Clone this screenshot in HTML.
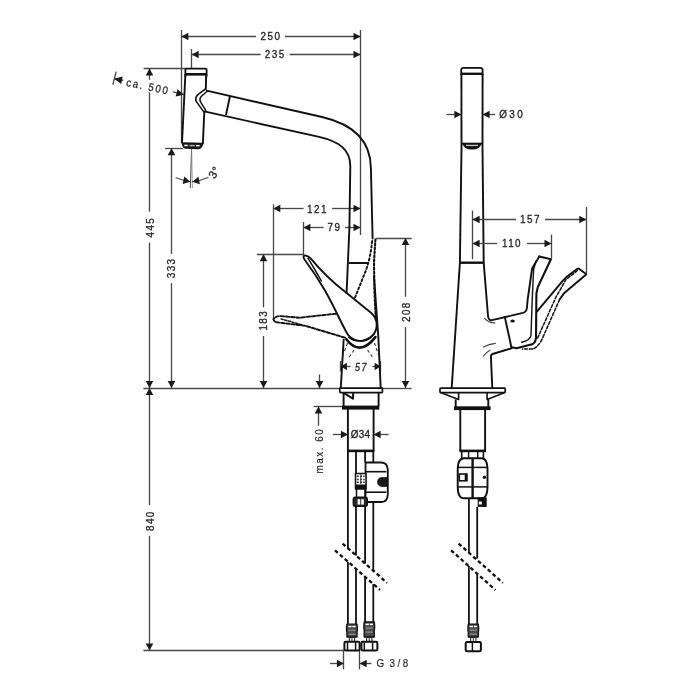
<!DOCTYPE html>
<html><head><meta charset="utf-8"><style>
html,body{margin:0;padding:0;background:#fff;}
body{width:700px;height:700px;overflow:hidden;}
svg{display:block;will-change:transform;}
text{font-family:"Liberation Sans",sans-serif;}
</style></head><body>
<svg width="700" height="700" viewBox="0 0 700 700" stroke-linecap="butt">
<rect width="700" height="700" fill="#fff"/>
<line x1="181.5" y1="30" x2="181.5" y2="143" stroke="#474747" stroke-width="1.3"/>
<line x1="360.5" y1="30" x2="360.5" y2="235" stroke="#474747" stroke-width="1.3"/>
<line x1="181.4" y1="36.5" x2="255.9" y2="36.5" stroke="#474747" stroke-width="1.3"/>
<line x1="285" y1="36.5" x2="360.5" y2="36.5" stroke="#474747" stroke-width="1.3"/>
<polygon points="181.4,36.5 188.4,32.7 188.4,40.3" fill="#1a1a1a"/>
<polygon points="360.5,36.5 353.5,40.3 353.5,32.7" fill="#1a1a1a"/>
<text x="0" y="0" font-size="11" letter-spacing="1.6" text-anchor="middle" dominant-baseline="central" fill="#1e1e1e" stroke="#1e1e1e" stroke-width="0.3" transform="translate(271 36.1) scale(0.9 1)">250</text>
<line x1="191.5" y1="49" x2="191.5" y2="68.6" stroke="#474747" stroke-width="1.3"/>
<line x1="191.7" y1="54.5" x2="260.6" y2="54.5" stroke="#474747" stroke-width="1.3"/>
<line x1="289.7" y1="54.5" x2="360.5" y2="54.5" stroke="#474747" stroke-width="1.3"/>
<polygon points="191.7,54.5 198.7,50.7 198.7,58.3" fill="#1a1a1a"/>
<polygon points="360.5,54.5 353.5,58.3 353.5,50.7" fill="#1a1a1a"/>
<text x="0" y="0" font-size="11" letter-spacing="1.6" text-anchor="middle" dominant-baseline="central" fill="#1e1e1e" stroke="#1e1e1e" stroke-width="0.3" transform="translate(275.2 54.7) scale(0.9 1)">235</text>
<line x1="143.6" y1="68.5" x2="185.5" y2="68.5" stroke="#474747" stroke-width="1.3"/>
<line x1="149.5" y1="68.6" x2="149.5" y2="79.9" stroke="#474747" stroke-width="1.3"/>
<line x1="149.5" y1="92.4" x2="149.5" y2="211.7" stroke="#474747" stroke-width="1.3"/>
<line x1="149.5" y1="242.6" x2="149.5" y2="388" stroke="#474747" stroke-width="1.3"/>
<polygon points="149.5,68.6 153.3,75.6 145.7,75.6" fill="#1a1a1a"/>
<polygon points="149.5,388 145.7,381 153.3,381" fill="#1a1a1a"/>
<text x="0" y="0" font-size="11" letter-spacing="1.6" text-anchor="middle" dominant-baseline="central" fill="#1e1e1e" stroke="#1e1e1e" stroke-width="0.3" transform="translate(150.2 227.1) rotate(-90) scale(0.9 1)">445</text>
<line x1="165.1" y1="148.5" x2="183" y2="148.5" stroke="#474747" stroke-width="1.3"/>
<line x1="171.5" y1="148.3" x2="171.5" y2="254" stroke="#474747" stroke-width="1.3"/>
<line x1="171.5" y1="283.1" x2="171.5" y2="388" stroke="#474747" stroke-width="1.3"/>
<polygon points="171.5,148.3 175.3,155.3 167.7,155.3" fill="#1a1a1a"/>
<polygon points="171.5,388 167.7,381 175.3,381" fill="#1a1a1a"/>
<text x="0" y="0" font-size="11" letter-spacing="1.6" text-anchor="middle" dominant-baseline="central" fill="#1e1e1e" stroke="#1e1e1e" stroke-width="0.3" transform="translate(171.6 267.9) rotate(-90) scale(0.9 1)">333</text>
<line x1="143.4" y1="388.5" x2="339.3" y2="388.5" stroke="#474747" stroke-width="1.3"/>
<line x1="382.9" y1="388.5" x2="411.6" y2="388.5" stroke="#474747" stroke-width="1.3"/>
<line x1="149.5" y1="388" x2="149.5" y2="505.1" stroke="#474747" stroke-width="1.3"/>
<line x1="149.5" y1="536" x2="149.5" y2="650.6" stroke="#474747" stroke-width="1.3"/>
<polygon points="149.5,388 153.3,395 145.7,395" fill="#1a1a1a"/>
<polygon points="149.5,650.6 145.7,643.6 153.3,643.6" fill="#1a1a1a"/>
<line x1="143.4" y1="650.5" x2="343.9" y2="650.5" stroke="#474747" stroke-width="1.3"/>
<text x="0" y="0" font-size="11" letter-spacing="1.6" text-anchor="middle" dominant-baseline="central" fill="#1e1e1e" stroke="#1e1e1e" stroke-width="0.3" transform="translate(150.2 520.6) rotate(-90) scale(0.9 1)">840</text>
<line x1="273.5" y1="204.3" x2="273.5" y2="319" stroke="#474747" stroke-width="1.3"/>
<line x1="273.3" y1="208.5" x2="303.6" y2="208.5" stroke="#474747" stroke-width="1.3"/>
<line x1="332.1" y1="208.5" x2="360.5" y2="208.5" stroke="#474747" stroke-width="1.3"/>
<polygon points="273.3,208.5 280.3,204.7 280.3,212.3" fill="#1a1a1a"/>
<polygon points="360.5,208.5 353.5,212.3 353.5,204.7" fill="#1a1a1a"/>
<text x="0" y="0" font-size="11" letter-spacing="1.6" text-anchor="middle" dominant-baseline="central" fill="#1e1e1e" stroke="#1e1e1e" stroke-width="0.3" transform="translate(317.5 208.9) scale(0.9 1)">121</text>
<line x1="303.5" y1="222" x2="303.5" y2="254.3" stroke="#474747" stroke-width="1.3"/>
<line x1="303.4" y1="227.5" x2="323.6" y2="227.5" stroke="#474747" stroke-width="1.3"/>
<line x1="345" y1="227.5" x2="360.5" y2="227.5" stroke="#474747" stroke-width="1.3"/>
<polygon points="303.4,227.5 310.4,223.7 310.4,231.3" fill="#1a1a1a"/>
<polygon points="360.5,227.5 353.5,231.3 353.5,223.7" fill="#1a1a1a"/>
<text x="0" y="0" font-size="11" letter-spacing="1.6" text-anchor="middle" dominant-baseline="central" fill="#1e1e1e" stroke="#1e1e1e" stroke-width="0.3" transform="translate(334.5 227.6) scale(0.9 1)">79</text>
<line x1="256.9" y1="254.5" x2="304" y2="254.5" stroke="#474747" stroke-width="1.3"/>
<line x1="263.5" y1="254.2" x2="263.5" y2="307.4" stroke="#474747" stroke-width="1.3"/>
<line x1="263.5" y1="336" x2="263.5" y2="388" stroke="#474747" stroke-width="1.3"/>
<polygon points="263.5,254.2 267.3,261.2 259.7,261.2" fill="#1a1a1a"/>
<polygon points="263.5,388 259.7,381 267.3,381" fill="#1a1a1a"/>
<text x="0" y="0" font-size="11" letter-spacing="1.6" text-anchor="middle" dominant-baseline="central" fill="#1e1e1e" stroke="#1e1e1e" stroke-width="0.3" transform="translate(263.8 320.2) rotate(-90) scale(0.9 1)">183</text>
<line x1="375.7" y1="238.5" x2="411.6" y2="238.5" stroke="#474747" stroke-width="1.3"/>
<line x1="405.5" y1="238" x2="405.5" y2="296.8" stroke="#474747" stroke-width="1.3"/>
<line x1="405.5" y1="327.1" x2="405.5" y2="388" stroke="#474747" stroke-width="1.3"/>
<polygon points="405.5,238 409.3,245 401.7,245" fill="#1a1a1a"/>
<polygon points="405.5,388 401.7,381 409.3,381" fill="#1a1a1a"/>
<text x="0" y="0" font-size="11" letter-spacing="1.6" text-anchor="middle" dominant-baseline="central" fill="#1e1e1e" stroke="#1e1e1e" stroke-width="0.3" transform="translate(406 311.6) rotate(-90) scale(0.9 1)">208</text>
<line x1="319.5" y1="374.5" x2="319.5" y2="388" stroke="#474747" stroke-width="1.3"/>
<polygon points="319.5,388 315.7,381 323.3,381" fill="#1a1a1a"/>
<line x1="340.5" y1="361" x2="340.5" y2="371.4" stroke="#474747" stroke-width="1.3"/>
<line x1="380.5" y1="361" x2="380.5" y2="371.4" stroke="#474747" stroke-width="1.3"/>
<line x1="340.9" y1="366.5" x2="350.6" y2="366.5" stroke="#474747" stroke-width="1.3"/>
<line x1="372.4" y1="366.5" x2="380.6" y2="366.5" stroke="#474747" stroke-width="1.3"/>
<polygon points="340.9,366.5 346.9,362.7 346.9,370.3" fill="#1a1a1a"/>
<polygon points="380.6,366.5 374.6,370.3 374.6,362.7" fill="#1a1a1a"/>
<text x="0" y="0" font-size="10" letter-spacing="1.6" text-anchor="middle" dominant-baseline="central" fill="#1e1e1e" stroke="#1e1e1e" stroke-width="0.3" transform="translate(361.5 367.2) scale(0.9 1)" font-style="italic">57</text>
<line x1="313.6" y1="406.5" x2="342" y2="406.5" stroke="#474747" stroke-width="1.3"/>
<line x1="318.5" y1="406.4" x2="318.5" y2="425.7" stroke="#474747" stroke-width="1.3"/>
<polygon points="318.5,406.4 322.3,413.4 314.7,413.4" fill="#1a1a1a"/>
<text x="0" y="0" font-size="11" letter-spacing="1.7" text-anchor="middle" dominant-baseline="central" fill="#1e1e1e" stroke="#1e1e1e" stroke-width="0.15" transform="translate(319.1 450.6) rotate(-90) scale(0.9 1)">max. 60</text>
<line x1="332.9" y1="434.5" x2="347.9" y2="434.5" stroke="#474747" stroke-width="1.3"/>
<line x1="373.6" y1="434.5" x2="388.6" y2="434.5" stroke="#474747" stroke-width="1.3"/>
<polygon points="347.9,434.5 340.9,438.3 340.9,430.7" fill="#1a1a1a"/>
<polygon points="373.6,434.5 380.6,430.7 380.6,438.3" fill="#1a1a1a"/>
<text x="0" y="0" font-size="11" letter-spacing="0.3" text-anchor="middle" dominant-baseline="central" fill="#1e1e1e" stroke="#1e1e1e" stroke-width="0.3" transform="translate(360.6 434.2) scale(0.9 1)">&#216;34</text>
<line x1="343.5" y1="650.6" x2="343.5" y2="669.3" stroke="#474747" stroke-width="1.3"/>
<line x1="359.5" y1="650.6" x2="359.5" y2="669.3" stroke="#474747" stroke-width="1.3"/>
<line x1="330" y1="663.5" x2="343.9" y2="663.5" stroke="#474747" stroke-width="1.3"/>
<line x1="359.7" y1="663.5" x2="371.4" y2="663.5" stroke="#474747" stroke-width="1.3"/>
<polygon points="343.9,663.5 336.9,667.3 336.9,659.7" fill="#1a1a1a"/>
<polygon points="359.7,663.5 366.7,659.7 366.7,667.3" fill="#1a1a1a"/>
<text x="0" y="0" font-size="11" letter-spacing="0" text-anchor="start" dominant-baseline="central" fill="#1e1e1e" stroke="#1e1e1e" stroke-width="0.15" transform="translate(376.4 663.6) scale(0.9 1)">G</text>
<text x="0" y="0" font-size="11" letter-spacing="2.7" text-anchor="start" dominant-baseline="central" fill="#1e1e1e" stroke="#1e1e1e" stroke-width="0.15" transform="translate(389.6 663.6) scale(0.9 1)">3/8</text>
<text x="0" y="0" font-size="10.8" letter-spacing="1.9" text-anchor="middle" dominant-baseline="central" fill="#1e1e1e" stroke="#1e1e1e" stroke-width="0.25" transform="translate(148 86.6) rotate(12) scale(0.9 1)">ca. 500</text>
<line x1="116.2" y1="71.6" x2="112.8" y2="84.6" stroke="#474747" stroke-width="1.3"/>
<line x1="114.1" y1="78.7" x2="123.3" y2="80.4" stroke="#474747" stroke-width="1.3"/>
<polygon points="114.1,78.7 122.66,76.42 121.28,83.89" fill="#1a1a1a"/>
<line x1="173" y1="91.9" x2="183.9" y2="94.7" stroke="#474747" stroke-width="1.3"/>
<polygon points="183.9,94.7 175.69,96.51 177.58,89.15" fill="#1a1a1a"/>
<line x1="191.6" y1="148.3" x2="190.3" y2="188" stroke="#474747" stroke-width="1"/>
<line x1="191.6" y1="148.3" x2="192.4" y2="188" stroke="#888" stroke-width="0.8"/>
<path d="M176,177.8 Q183,180.6 190.3,181.8" fill="none" stroke="#474747" stroke-width="1.1" stroke-linejoin="round" stroke-linecap="round"/>
<polygon points="190.3,181.8 182.65,184.01 184.28,176.58" fill="#1a1a1a"/>
<path d="M208,177.4 Q200,180.8 192.3,181.8" fill="none" stroke="#474747" stroke-width="1.1" stroke-linejoin="round" stroke-linecap="round"/>
<polygon points="192.3,181.8 198.52,176.82 199.86,184.3" fill="#1a1a1a"/>
<text x="0" y="0" font-size="11.5" letter-spacing="0.3" text-anchor="middle" dominant-baseline="central" fill="#1e1e1e" stroke="#1e1e1e" stroke-width="0.3" transform="translate(214.3 172.4) rotate(-58)">3&#176;</text>
<path d="M185.4,76 L185.4,69.5 Q185.4,68.6 186.4,68.6 L205.6,68.6 Q206.6,68.6 206.6,69.5 L206.6,76" fill="none" stroke="#111" stroke-width="1.8" stroke-linejoin="round" stroke-linecap="round"/>
<line x1="185.4" y1="74.3" x2="206.4" y2="74.3" stroke="#111" stroke-width="2.6"/>
<line x1="185.4" y1="74" x2="182" y2="142.8" stroke="#111" stroke-width="1.9"/>
<line x1="206.2" y1="74" x2="205.8" y2="89.5" stroke="#111" stroke-width="1.9"/>
<line x1="204.3" y1="111.4" x2="202.9" y2="143.7" stroke="#111" stroke-width="1.9"/>
<path d="M182.2,143 L202.9,143.5 L201.4,146.6 Q200.6,148.3 198.5,148.4 L186,148.1 Q184.2,148 183.4,146.4 Z" fill="#1c1c1c" stroke="#111" stroke-width="1.5" stroke-linejoin="round" stroke-linecap="round"/>
<rect x="184.3" y="144.7" width="3.4" height="1.5" fill="#fff"/>
<rect x="189.4" y="144.8" width="5.2" height="1.5" fill="#aaa"/>
<rect x="196.1" y="144.9" width="3.5" height="1.5" fill="#fff"/>
<path d="M205.6,88.9 L198.2,94.3 Q194.6,97.4 196.2,101.4 L203.6,111.6" fill="none" stroke="#111" stroke-width="1.6" stroke-linejoin="round" stroke-linecap="round"/>
<path d="M207.2,91.3 L201.4,96.2 Q198.8,98.8 200.8,102.4 L205.8,110.4" fill="none" stroke="#111" stroke-width="1.5" stroke-linejoin="round" stroke-linecap="round"/>
<path d="M206.6,90.6 L322,117 C348,123 370.6,137.4 370.9,168 L372.6,238.6" fill="none" stroke="#111" stroke-width="1.9" stroke-linejoin="round" stroke-linecap="round"/>
<path d="M204.3,111.4 L318,136.6 C340,141.5 350.3,150 350.3,166 L349.4,228 L346.6,292.9" fill="none" stroke="#111" stroke-width="1.9" stroke-linejoin="round" stroke-linecap="round"/>
<line x1="230" y1="96" x2="226" y2="114.9" stroke="#111" stroke-width="1.9"/>
<line x1="349" y1="263" x2="368.3" y2="263" stroke="#111" stroke-width="2"/>
<path d="M374,276 L378.3,336.5 L380.7,387.8" fill="none" stroke="#111" stroke-width="1.9" stroke-linejoin="round" stroke-linecap="round"/>
<path d="M375.4,239.5 L374,262 L374.4,290 L375.8,320" fill="none" stroke="#111" stroke-width="2.1" stroke-linejoin="round" stroke-linecap="round" stroke-dasharray="2 2"/>
<path d="M372.2,241 Q370.5,258 365.7,270.9 L354.5,298.8" fill="none" stroke="#111" stroke-width="1.9" stroke-linejoin="round" stroke-linecap="round" stroke-dasharray="2 2.4"/>
<line x1="343.7" y1="338.9" x2="340.8" y2="387.8" stroke="#111" stroke-width="1.9"/>
<path d="M306,255.6 Q309,256.4 310.6,258.3 C317,266 330,280 346,292.6 L371,312.7 A16,16 0 1 1 346.7,332.7 C335,311 328,291 304.5,259.5 Q302.6,256.6 304.3,255.6 Q305,255.3 306,255.6 Z" fill="none" stroke="#111" stroke-width="1.9" stroke-linejoin="round" stroke-linecap="round"/>
<path d="M308,258.4 Q314,268 321.4,281" fill="none" stroke="#111" stroke-width="1.5" stroke-linejoin="round" stroke-linecap="round"/>
<path d="M348.5,337.5 Q360,346 374.2,334" fill="none" stroke="#111" stroke-width="1.1" stroke-linejoin="round" stroke-linecap="round"/>
<path d="M346.3,339.2 Q360,357 375.4,337.1" fill="none" stroke="#111" stroke-width="2.6" stroke-linejoin="round" stroke-linecap="round"/>
<path d="M335.9,313.7 L299.3,317.7 L279.9,316 Q275,316.5 273.4,319.4 Q274.6,321.8 276.4,322.3 L305,325.7 L346,338" fill="none" stroke="#111" stroke-width="1.9" stroke-linejoin="round" stroke-linecap="round" stroke-dasharray="3.4 1.8"/>
<path d="M281,318.9 L302.7,325.1" fill="none" stroke="#111" stroke-width="1.5" stroke-linejoin="round" stroke-linecap="round" stroke-dasharray="2.2 1.6"/>
<line x1="347.5" y1="343" x2="342.5" y2="356.5" stroke="#333" stroke-width="1.1" stroke-dasharray="3 2.5"/>
<line x1="354" y1="350" x2="348.5" y2="358" stroke="#333" stroke-width="1.1" stroke-dasharray="3 2.5"/>
<line x1="374.5" y1="343" x2="379" y2="356.5" stroke="#333" stroke-width="1.1" stroke-dasharray="3 2.5"/>
<line x1="367.5" y1="350" x2="373" y2="358" stroke="#333" stroke-width="1.1" stroke-dasharray="3 2.5"/>
<path d="M339.8,388.2 L382.4,388.2 L382.4,391.8 Q382.4,392.6 381.6,392.6 L340.6,392.6 Q339.8,392.6 339.8,391.8 Z" fill="none" stroke="#111" stroke-width="1.7" stroke-linejoin="round" stroke-linecap="round"/>
<line x1="343.6" y1="392.6" x2="343.6" y2="406.4" stroke="#111" stroke-width="1.9"/>
<line x1="378.6" y1="392.6" x2="378.6" y2="406.4" stroke="#111" stroke-width="1.9"/>
<polyline points="344,393.2 353,398.6 353.2,392.8" fill="none" stroke="#111" stroke-width="2" stroke-linejoin="round"/>
<rect x="342" y="405.6" width="37.3" height="4" fill="#111"/>
<line x1="347.9" y1="409" x2="347.9" y2="451" stroke="#111" stroke-width="1.9"/>
<line x1="373.6" y1="409" x2="373.6" y2="451" stroke="#111" stroke-width="1.9"/>
<rect x="347" y="449.6" width="27.4" height="2.6" fill="#111"/>
<line x1="347.9" y1="451" x2="347.9" y2="548.28" stroke="#111" stroke-width="1.8"/>
<line x1="347.9" y1="561.68" x2="347.9" y2="624" stroke="#111" stroke-width="1.8"/>
<line x1="356" y1="451" x2="356" y2="473.5" stroke="#111" stroke-width="1.8"/>
<line x1="356" y1="506.5" x2="356" y2="555.43" stroke="#111" stroke-width="1.8"/>
<line x1="356" y1="568.83" x2="356" y2="624" stroke="#111" stroke-width="1.8"/>
<line x1="365.1" y1="451" x2="365.1" y2="462.5" stroke="#111" stroke-width="1.8"/>
<line x1="365.1" y1="502" x2="365.1" y2="563.47" stroke="#111" stroke-width="1.8"/>
<line x1="365.1" y1="576.85" x2="365.1" y2="624" stroke="#111" stroke-width="1.8"/>
<line x1="373.3" y1="451" x2="373.3" y2="462.5" stroke="#111" stroke-width="1.8"/>
<line x1="373.3" y1="502" x2="373.3" y2="570.71" stroke="#111" stroke-width="1.8"/>
<line x1="373.3" y1="584.09" x2="373.3" y2="624" stroke="#111" stroke-width="1.8"/>
<line x1="342.6" y1="543.6" x2="387.1" y2="582.9" stroke="#111" stroke-width="2.3" stroke-dasharray="3.8 2.7"/>
<line x1="335" y1="550.3" x2="380" y2="590" stroke="#111" stroke-width="2.3" stroke-dasharray="3.8 2.7"/>
<path d="M365.5,462.5 L381.5,462.5 Q387.6,462.8 387.8,470 L387.8,494.5 Q387.6,501.8 381.5,502 L365.5,502 Z" fill="#fff" stroke="#111" stroke-width="1.8" stroke-linejoin="round" stroke-linecap="round"/>
<line x1="365.5" y1="471.7" x2="386.4" y2="471.7" stroke="#111" stroke-width="1.6"/>
<line x1="365.5" y1="492.2" x2="386.4" y2="492.2" stroke="#111" stroke-width="1.6"/>
<path d="M387.2,477.6 L382,477.6 Q377.6,477.8 377.6,482 Q377.6,486.2 382,486.4 L387.2,486.4 Z" fill="#1a1a1a" stroke="#111" stroke-width="0.8" stroke-linejoin="round" stroke-linecap="round"/>
<rect x="355.5" y="473.5" width="10.5" height="15.5" fill="#fff" stroke="#111" stroke-width="1.5"/>
<rect x="355.5" y="484.5" width="10.5" height="4.5" fill="#111"/>
<line x1="356.8" y1="476.3" x2="364.7" y2="476.3" stroke="#333" stroke-width="1.4" stroke-dasharray="2 1.2"/>
<line x1="356.8" y1="479.5" x2="364.7" y2="479.5" stroke="#333" stroke-width="1.4" stroke-dasharray="2 1.2"/>
<line x1="356.8" y1="482.3" x2="364.7" y2="482.3" stroke="#333" stroke-width="1.4" stroke-dasharray="2 1.2"/>
<line x1="360.75" y1="474" x2="360.75" y2="484" stroke="#444" stroke-width="1"/>
<line x1="356.5" y1="489" x2="356.5" y2="497" stroke="#111" stroke-width="1.5"/>
<line x1="365" y1="489" x2="365" y2="497" stroke="#111" stroke-width="1.5"/>
<path d="M353.4,499 Q353.4,497.3 355,497.3 L365.6,497.3 Q367.2,497.3 367.2,499 L367.2,504.6 Q367.2,506.3 365.6,506.3 L355,506.3 Q353.4,506.3 353.4,504.6 Z" fill="#2a2a2a" stroke="#111" stroke-width="1.6" stroke-linejoin="round" stroke-linecap="round"/>
<rect x="357.6" y="499.2" width="2.6" height="5.4" fill="#fff"/>
<rect x="361.2" y="499.2" width="2.6" height="5.4" fill="#fff"/>
<path d="M346.9,624.2 L357,624.2 Q357.8,630.2 357,632.2 L357,637 L346.9,637 L346.9,632.2 Q346.1,630.2 346.9,624.2 Z" fill="#4a4a4a" stroke="#111" stroke-width="1.3" stroke-linejoin="round" stroke-linecap="round"/>
<rect x="348.3" y="625.8" width="7.3" height="1.5" fill="#fff"/>
<rect x="351.55" y="625.6" width="0.8" height="2" fill="#262626"/>
<rect x="348.4" y="629.7" width="7.1" height="1.1" fill="#9a9a9a"/>
<rect x="348.4" y="633.7" width="7.1" height="1.1" fill="#9a9a9a"/>
<rect x="348.75" y="637" width="6.4" height="5" fill="#262626"/>
<rect x="349.85" y="638" width="1.6" height="3.2" fill="#fff"/>
<rect x="352.45" y="638" width="1.6" height="3.2" fill="#fff"/>
<path d="M364.2,622 L374.3,622 Q375.1,628 374.3,630 L374.3,637 L364.2,637 L364.2,630 Q363.4,628 364.2,622 Z" fill="#4a4a4a" stroke="#111" stroke-width="1.3" stroke-linejoin="round" stroke-linecap="round"/>
<rect x="365.6" y="623.6" width="7.3" height="1.5" fill="#fff"/>
<rect x="368.85" y="623.4" width="0.8" height="2" fill="#262626"/>
<rect x="365.7" y="627.5" width="7.1" height="1.1" fill="#9a9a9a"/>
<rect x="365.7" y="631.5" width="7.1" height="1.1" fill="#9a9a9a"/>
<rect x="366.05" y="637" width="6.4" height="5" fill="#262626"/>
<rect x="367.15" y="638" width="1.6" height="3.2" fill="#fff"/>
<rect x="369.75" y="638" width="1.6" height="3.2" fill="#fff"/>
<path d="M344.4,643.2 Q344.4,641.8 345.8,641.8 L358.2,641.8 Q359.6,641.8 359.6,643.2 L359.6,649.3 Q359.6,650.5 358.2,650.5 L345.8,650.5 Q344.4,650.5 344.4,649.3 Z" fill="#fff" stroke="#111" stroke-width="2" stroke-linejoin="round" stroke-linecap="round"/>
<line x1="347.5" y1="642.3" x2="347.5" y2="650" stroke="#111" stroke-width="1.5"/>
<line x1="355.6" y1="642.3" x2="355.6" y2="650" stroke="#111" stroke-width="1.5"/>
<path d="M361.4,643.2 Q361.4,641.8 362.8,641.8 L376,641.8 Q377.4,641.8 377.4,643.2 L377.4,649.3 Q377.4,650.5 376,650.5 L362.8,650.5 Q361.4,650.5 361.4,649.3 Z" fill="#fff" stroke="#111" stroke-width="2" stroke-linejoin="round" stroke-linecap="round"/>
<line x1="364.3" y1="642.3" x2="364.3" y2="650" stroke="#111" stroke-width="1.5"/>
<line x1="372.6" y1="642.3" x2="372.6" y2="650" stroke="#111" stroke-width="1.5"/>
<path d="M461.2,74.4 L461.2,70 Q461.3,67.9 463.5,67.9 L480.3,67.9 Q482.5,67.9 482.6,70 L482.6,74.4" fill="none" stroke="#111" stroke-width="1.8" stroke-linejoin="round" stroke-linecap="round"/>
<line x1="461.2" y1="73.8" x2="482.6" y2="73.8" stroke="#111" stroke-width="2.4"/>
<line x1="461.4" y1="74" x2="461.5" y2="148" stroke="#111" stroke-width="1.9"/>
<line x1="482.6" y1="74" x2="482.5" y2="148" stroke="#111" stroke-width="1.9"/>
<path d="M463.5,143.8 Q464.5,148.8 472,148.8 Q479.5,148.8 480.5,143.8 Z" fill="#1a1a1a" stroke="#111" stroke-width="1.6" stroke-linejoin="round" stroke-linecap="round"/>
<line x1="461.4" y1="143.6" x2="482.6" y2="143.6" stroke="#111" stroke-width="1.8"/>
<line x1="466" y1="145.4" x2="478" y2="145.4" stroke="#ccc" stroke-width="1.2"/>
<line x1="461.5" y1="148" x2="459.9" y2="262.7" stroke="#111" stroke-width="1.9"/>
<line x1="482.5" y1="148" x2="483.7" y2="262.7" stroke="#111" stroke-width="1.9"/>
<line x1="459.6" y1="262.7" x2="484" y2="262.7" stroke="#111" stroke-width="2.4"/>
<line x1="459.9" y1="262.7" x2="451.7" y2="388" stroke="#111" stroke-width="1.9"/>
<path d="M483.7,262.7 L488,316 Q488.5,320.6 492,320.2 L523,312.8 Q526.6,311.8 526.9,308 L527.6,300 L530.9,277 L532.1,268.6 L539.3,256.4" fill="none" stroke="#111" stroke-width="1.9" stroke-linejoin="round" stroke-linecap="round"/>
<path d="M539.3,256.4 L550.9,259.3 L537.8,287.1 L536.4,293.5 L536,337.7 Q535.5,344 531,344.6 L516.6,348.2 L511.4,347.2" fill="none" stroke="#111" stroke-width="2.1" stroke-linejoin="round" stroke-linecap="round"/>
<path d="M536,261 L533.6,269.5 L532.2,300 L531,335.4 Q530,340.5 521.7,342.3" fill="none" stroke="#111" stroke-width="1.4" stroke-linejoin="round" stroke-linecap="round"/>
<line x1="504.6" y1="316" x2="511.4" y2="347.2" stroke="#111" stroke-width="1.9"/>
<ellipse cx="512.6" cy="321" rx="2.2" ry="1.5" fill="#111"/>
<path d="M511.4,348.4 L492.5,354 Q490.8,354.6 490.9,356.5 L492.3,388" fill="none" stroke="#111" stroke-width="1.9" stroke-linejoin="round" stroke-linecap="round"/>
<path d="M484.6,318.3 Q488,322.6 494.9,322.9" fill="none" stroke="#444" stroke-width="1.1" stroke-linejoin="round" stroke-linecap="round"/>
<path d="M483.4,346.9 Q489,344 495.4,343.4" fill="none" stroke="#444" stroke-width="1.1" stroke-linejoin="round" stroke-linecap="round"/>
<path d="M483.4,356 Q486,352.5 490,350.3" fill="none" stroke="#444" stroke-width="1.1" stroke-linejoin="round" stroke-linecap="round"/>
<path d="M537.1,311.4 L562.9,280.7 L567.1,276.4 L577.4,268.8 Q578.2,268.3 579,268.8 L586.4,274.3 L564.3,292.9 L559.6,299.5" fill="none" stroke="#111" stroke-width="1.9" stroke-linejoin="round" stroke-linecap="round"/>
<path d="M577.5,270.5 L566,279.5 L556,297 L537.6,338" fill="none" stroke="#111" stroke-width="1.5" stroke-linejoin="round" stroke-linecap="round" stroke-dasharray="3 1.8"/>
<path d="M559.6,299.5 L541.7,340 Q537,348 532.6,349.1 L522.3,349.1" fill="none" stroke="#111" stroke-width="1.5" stroke-linejoin="round" stroke-linecap="round" stroke-dasharray="3 1.8"/>
<path d="M440.6,388.2 L504.6,388.2 Q505.2,388.2 505.2,389 L505.2,391.8 Q505.2,392.6 504.4,392.6 L440.8,392.6 Q440,392.6 440,391.8 L440,389 Q440,388.2 440.6,388.2 Z" fill="none" stroke="#111" stroke-width="1.7" stroke-linejoin="round" stroke-linecap="round"/>
<polyline points="440.5,392.6 458.6,399.4 458.6,392.6" fill="none" stroke="#111" stroke-width="1.6" stroke-linejoin="round"/>
<polyline points="504.8,392.6 487.1,399.4 487.1,392.6" fill="none" stroke="#111" stroke-width="1.6" stroke-linejoin="round"/>
<line x1="455.7" y1="399.4" x2="455.7" y2="406.9" stroke="#111" stroke-width="1.9"/>
<line x1="488.3" y1="399.4" x2="488.3" y2="406.9" stroke="#111" stroke-width="1.9"/>
<rect x="454" y="406.3" width="36.6" height="3.8" fill="#111"/>
<line x1="460.3" y1="410" x2="460.3" y2="451" stroke="#111" stroke-width="1.9"/>
<line x1="485.1" y1="410" x2="485.1" y2="451" stroke="#111" stroke-width="1.9"/>
<rect x="459.5" y="449.6" width="26.5" height="2.6" fill="#111"/>
<line x1="461.7" y1="451" x2="461.7" y2="458.3" stroke="#111" stroke-width="1.6"/>
<line x1="483.4" y1="451" x2="483.4" y2="458.3" stroke="#111" stroke-width="1.6"/>
<line x1="468.6" y1="451" x2="468.6" y2="458.3" stroke="#111" stroke-width="1.4"/>
<line x1="477.7" y1="451" x2="477.7" y2="458.3" stroke="#111" stroke-width="1.4"/>
<path d="M464,458.3 L481.5,458.3 C485.5,458.3 487.5,463 487.5,470 L487.5,486.5 C487.5,493.5 485.5,498.3 481.5,498.3 L464,498.3 C460,498.3 457.7,493.5 457.7,486.5 L457.7,470 C457.7,463 460,458.3 464,458.3 Z" fill="#fff" stroke="#111" stroke-width="1.9" stroke-linejoin="round" stroke-linecap="round"/>
<line x1="472.6" y1="458.3" x2="472.6" y2="498.3" stroke="#111" stroke-width="2.4"/>
<line x1="458" y1="467.4" x2="487.2" y2="467.4" stroke="#111" stroke-width="1.5"/>
<line x1="458" y1="486.9" x2="487.2" y2="486.9" stroke="#111" stroke-width="1.5"/>
<rect x="459.3" y="474" width="7.6" height="6.8" fill="#fff" stroke="#111" stroke-width="1.6"/>
<rect x="464.7" y="474" width="2.4" height="6.8" fill="#111"/>
<circle cx="484.4" cy="477.2" r="1.7" fill="#111"/>
<line x1="468.9" y1="498.3" x2="468.9" y2="552.9" stroke="#111" stroke-width="1.8"/>
<line x1="468.9" y1="565.7" x2="468.9" y2="624" stroke="#111" stroke-width="1.8"/>
<line x1="477.2" y1="506.9" x2="477.2" y2="558.6" stroke="#111" stroke-width="1.8"/>
<line x1="477.2" y1="573.6" x2="477.2" y2="624" stroke="#111" stroke-width="1.8"/>
<rect x="477.7" y="497.4" width="9" height="9.5" fill="#111"/>
<rect x="478.8" y="501.5" width="3" height="3" fill="#fff"/>
<line x1="458.6" y1="543.6" x2="502.9" y2="582.9" stroke="#111" stroke-width="2.3" stroke-dasharray="3.8 2.7"/>
<line x1="451.1" y1="550.3" x2="495.4" y2="590" stroke="#111" stroke-width="2.3" stroke-dasharray="3.8 2.7"/>
<path d="M468.3,624.1 L478.3,624.1 Q479.1,630.1 478.3,632.1 L478.3,637 L468.3,637 L468.3,632.1 Q467.5,630.1 468.3,624.1 Z" fill="#4a4a4a" stroke="#111" stroke-width="1.3" stroke-linejoin="round" stroke-linecap="round"/>
<rect x="469.7" y="625.7" width="7.2" height="1.5" fill="#fff"/>
<rect x="472.9" y="625.5" width="0.8" height="2" fill="#262626"/>
<rect x="469.8" y="629.6" width="7" height="1.1" fill="#9a9a9a"/>
<rect x="469.8" y="633.6" width="7" height="1.1" fill="#9a9a9a"/>
<rect x="470.1" y="637" width="6.4" height="5" fill="#262626"/>
<rect x="471.2" y="638" width="1.6" height="3.2" fill="#fff"/>
<rect x="473.8" y="638" width="1.6" height="3.2" fill="#fff"/>
<path d="M465.7,643.3 Q465.7,641.9 467.1,641.9 L479.5,641.9 Q480.9,641.9 480.9,643.3 L480.9,650.1 Q480.9,651.3 479.5,651.3 L467.1,651.3 Q465.7,651.3 465.7,650.1 Z" fill="#fff" stroke="#111" stroke-width="2" stroke-linejoin="round" stroke-linecap="round"/>
<line x1="472.4" y1="642.4" x2="472.4" y2="650.8" stroke="#111" stroke-width="1.5"/>
<line x1="446.4" y1="114.5" x2="461.4" y2="114.5" stroke="#474747" stroke-width="1.3"/>
<line x1="482.6" y1="114.5" x2="495" y2="114.5" stroke="#474747" stroke-width="1.3"/>
<polygon points="461.4,114.5 454.4,118.3 454.4,110.7" fill="#1a1a1a"/>
<polygon points="482.6,114.5 489.6,110.7 489.6,118.3" fill="#1a1a1a"/>
<text x="0" y="0" font-size="11" letter-spacing="2.6" text-anchor="start" dominant-baseline="central" fill="#1e1e1e" stroke="#1e1e1e" stroke-width="0.3" transform="translate(499.3 114) scale(0.9 1)">&#216;30</text>
<line x1="472.5" y1="210.6" x2="472.5" y2="259.3" stroke="#474747" stroke-width="1.3"/>
<line x1="586.5" y1="207" x2="586.5" y2="273.4" stroke="#474747" stroke-width="1.3"/>
<line x1="472.6" y1="219.5" x2="516" y2="219.5" stroke="#474747" stroke-width="1.3"/>
<line x1="545" y1="219.5" x2="586.3" y2="219.5" stroke="#474747" stroke-width="1.3"/>
<polygon points="472.6,219.5 479.6,215.7 479.6,223.3" fill="#1a1a1a"/>
<polygon points="586.3,219.5 579.3,223.3 579.3,215.7" fill="#1a1a1a"/>
<text x="0" y="0" font-size="11" letter-spacing="1.6" text-anchor="middle" dominant-baseline="central" fill="#1e1e1e" stroke="#1e1e1e" stroke-width="0.3" transform="translate(530.5 219.7) scale(0.9 1)">157</text>
<line x1="551.5" y1="234.6" x2="551.5" y2="258.8" stroke="#474747" stroke-width="1.3"/>
<line x1="472.6" y1="243.5" x2="497" y2="243.5" stroke="#474747" stroke-width="1.3"/>
<line x1="527" y1="243.5" x2="551.5" y2="243.5" stroke="#474747" stroke-width="1.3"/>
<polygon points="472.6,243.5 479.6,239.7 479.6,247.3" fill="#1a1a1a"/>
<polygon points="551.5,243.5 544.5,247.3 544.5,239.7" fill="#1a1a1a"/>
<text x="0" y="0" font-size="11" letter-spacing="1.6" text-anchor="middle" dominant-baseline="central" fill="#1e1e1e" stroke="#1e1e1e" stroke-width="0.3" transform="translate(512 243.7) scale(0.9 1)">110</text>
</svg>
</body></html>
